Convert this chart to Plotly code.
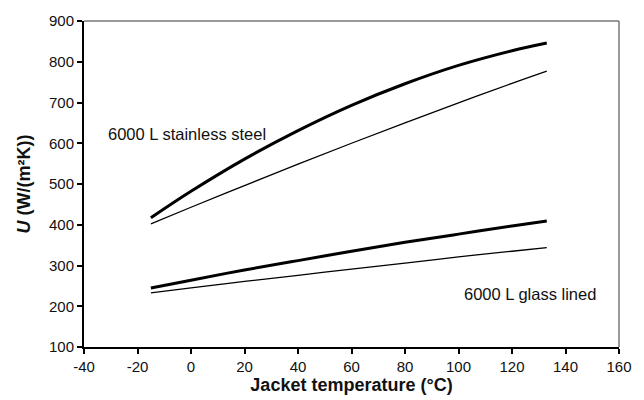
import plotly.graph_objects as go

temps = [-15, 0, 20, 40, 60, 80, 100, 120, 133]
ss_thick = [417, 482, 561, 631, 693, 746, 791, 827, 846]
ss_thin = [402, 443, 496, 549, 600, 650, 699, 747, 777]
gl_thick = [245, 264, 289, 312, 335, 357, 377, 397, 409]
gl_thin = [233, 245, 261, 276, 291, 306, 321, 335, 344]

x_ticks = [-40, -20, 0, 20, 40, 60, 80, 100, 120, 140, 160]
x_labels = ["-40", "-20", "0", "20", "40", "60", "80", "100", "120", "140", "160"]
y_ticks = [100, 200, 300, 400, 500, 600, 700, 800, 900]

FONT = "Liberation Sans, Arial, sans-serif"

fig = go.Figure()
for ys, w in [(ss_thick, 3), (ss_thin, 1.3), (gl_thick, 3), (gl_thin, 1.3)]:
    fig.add_trace(go.Scatter(x=temps, y=ys, mode="lines", line=dict(color="black", width=w, shape="spline"),
                             showlegend=False, hoverinfo="skip"))

fig.add_annotation(x=-31.6, y=622, text="6000 L stainless steel", showarrow=False, xanchor="left", yanchor="middle",
                   font=dict(family=FONT, size=16.5, color="#111"))
fig.add_annotation(x=101.2, y=230, text="6000 L glass lined", showarrow=False, xanchor="left", yanchor="middle",
                   font=dict(family=FONT, size=16.5, color="#111"))

# frame top/right in grey
fig.add_shape(type="line", xref="paper", yref="paper", x0=0, x1=1, y0=1, y1=1, line=dict(color="#777", width=1.5))
fig.add_shape(type="line", xref="paper", yref="paper", x0=1, x1=1, y0=0, y1=1, line=dict(color="#777", width=1.5))

fig.update_xaxes(range=[-40, 160], tickvals=x_ticks, ticktext=x_labels, ticks="outside", ticklen=5, tickwidth=1.5,
                 tickcolor="black", showline=True, linecolor="black", linewidth=2, showgrid=False, zeroline=False,
                 tickfont=dict(family=FONT, size=15, color="#111"),
                 title=dict(text="<b>Jacket temperature (°C)</b>", font=dict(family=FONT, size=18, color="#111"),
                            standoff=0))
fig.update_yaxes(range=[100, 900], tickvals=y_ticks, ticks="outside", ticklen=5, tickwidth=1.5, tickcolor="black",
                 showline=True, linecolor="black", linewidth=2, showgrid=False, zeroline=False,
                 tickfont=dict(family=FONT, size=15, color="#111"),
                 title=dict(text="<b><i>U</i> (W/(m²K))</b>", font=dict(family=FONT, size=18, color="#111"),
                            standoff=14))

fig.update_layout(width=644, height=400, margin=dict(l=84, r=13, t=18, b=51),
                  plot_bgcolor="white", paper_bgcolor="white")

fig.write_html("out.html")
